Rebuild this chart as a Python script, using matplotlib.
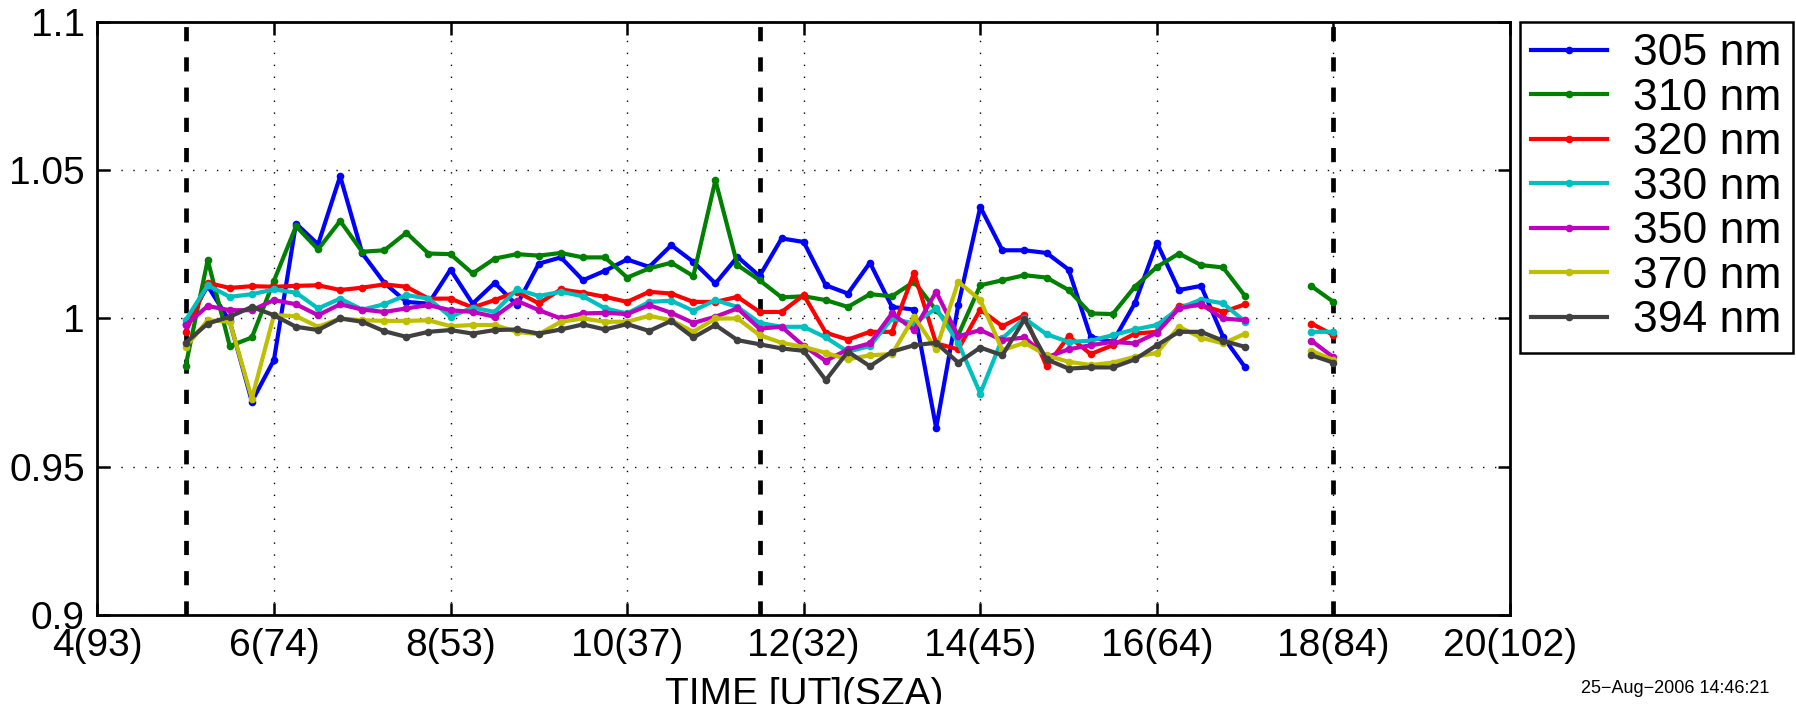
import numpy as np
import matplotlib
matplotlib.use('Agg')
import matplotlib.pyplot as plt

plt.rcParams['font.family'] = ['Liberation Sans', 'DejaVu Sans']

# hours UT of each ratio sample
hours = [5.0, 5.25, 5.5, 5.75, 6.0, 6.25, 6.5, 6.75, 7.0, 7.25, 7.5, 7.75,
         8.0, 8.25, 8.5, 8.75, 9.0, 9.25, 9.5, 9.75, 10.0, 10.25, 10.5, 10.75,
         11.0, 11.25, 11.5, 11.75, 12.0, 12.25, 12.5, 12.75, 13.0, 13.25, 13.5, 13.75,
         14.0, 14.25, 14.5, 14.75, 15.0, 15.25, 15.5, 15.75, 16.0, 16.25, 16.5, 16.75,
         17.0, 17.75, 18.0]

r305 = [0.998, 1.011, 0.999, 0.972, 0.986, 1.032, 1.025, 1.048, 1.022, 1.012, 1.0056, 1.005,
        1.0165, 1.005, 1.012, 1.0045, 1.0185, 1.0206, 1.0129, 1.0161, 1.0199, 1.0174, 1.0247, 1.0191,
        1.0118, 1.0208, 1.0143, 1.027, 1.0258, 1.0112, 1.0084, 1.0188, 1.0039, 1.003, 0.9631, 1.0045,
        1.0376, 1.023, 1.023, 1.0221, 1.0165, 0.9938, 0.9921, 1.0051, 1.0255, 1.0096, 1.011, 0.9938,
        0.9835, np.nan, np.nan]
r310 = [0.984, 1.0197, 0.9907, 0.9936, 1.0127, 1.0311, 1.0233, 1.0329, 1.0225, 1.023, 1.0289, 1.0219,
        1.0217, 1.0152, 1.0202, 1.0217, 1.0212, 1.0221, 1.0206, 1.0206, 1.0138, 1.0169, 1.0188, 1.0143,
        1.0466, 1.018, 1.0129, 1.0071, 1.0075, 1.0062, 1.0039, 1.0082, 1.0075, 1.0124, 1.0028, 0.9944,
        1.0112, 1.0129, 1.0146, 1.0138, 1.0096, 1.0017, 1.0015, 1.0107, 1.0174, 1.0219, 1.018, 1.0172,
        1.0075, 1.0109, 1.0056]
r320 = [0.9955, 1.012, 1.0103, 1.0109, 1.0107, 1.011, 1.0112, 1.0096, 1.0104, 1.0115, 1.0107, 1.0067,
        1.0067, 1.0037, 1.0062, 1.009, 1.0051, 1.0098, 1.0087, 1.0073, 1.0056, 1.009, 1.0084, 1.0056,
        1.0056, 1.0073, 1.0022, 1.0022, 1.0079, 0.9952, 0.9929, 0.9955, 0.9955, 1.0154, 0.9916, 0.9896,
        1.003, 0.9974, 1.0011, 0.9839, 0.994, 0.988, 0.991, 0.9949, 0.9955, 1.0042, 1.0045, 1.0022,
        1.0048, 0.9983, 0.9944]
r330 = [0.9994, 1.0112, 1.0073, 1.0082, 1.0098, 1.0087, 1.0034, 1.0067, 1.003, 1.0048, 1.0079, 1.0067,
        1.0006, 1.0037, 1.0022, 1.0098, 1.0076, 1.009, 1.0075, 1.0034, 1.0017, 1.0056, 1.006, 1.0026,
        1.0062, 1.0039, 0.9985, 0.9972, 0.9972, 0.9936, 0.9888, 0.9907, 1.0, 0.9983, 1.0034, 0.9918,
        0.9747, 0.9933, 1.0, 0.9947, 0.9921, 0.9925, 0.9944, 0.9963, 0.9978, 1.0034, 1.0064, 1.0051,
        0.9989, 0.9955, 0.9955]
r350 = [0.9978, 1.0042, 1.0028, 1.0028, 1.0062, 1.0048, 1.0011, 1.0048, 1.003, 1.0022, 1.0034, 1.0045,
        1.0028, 1.0022, 1.0006, 1.006, 1.0028, 1.0, 1.0017, 1.0019, 1.0015, 1.0045, 1.0019, 0.9985,
        1.0006, 1.0034, 0.9966, 0.9972, 0.9907, 0.9857, 0.9896, 0.9916, 1.0017, 0.9961, 1.009, 0.994,
        0.9961, 0.9927, 0.9936, 0.9869, 0.9896, 0.991, 0.9921, 0.9916, 0.9952, 1.0034, 1.0048, 1.0,
        0.9994, 0.9925, 0.9869]
r370 = [0.9904, 0.9994, 0.9989, 0.973, 1.0011, 1.0008, 0.9972, 1.0, 0.9994, 0.9992, 0.9992, 0.9994,
        0.9974, 0.9978, 0.9978, 0.9955, 0.9947, 0.9989, 1.0, 0.9989, 0.9989, 1.0009, 0.9994, 0.9955,
        1.0, 1.0, 0.9944, 0.9918, 0.9904, 0.9884, 0.9862, 0.9876, 0.988, 1.0006, 0.9896, 1.0124,
        1.0062, 0.9893, 0.9918, 0.9876, 0.9854, 0.9843, 0.9851, 0.9871, 0.9884, 0.9972, 0.9935, 0.9916,
        0.9949, 0.9891, 0.986]
r394 = [0.9918, 0.9983, 1.0006, 1.0039, 1.0011, 0.9972, 0.9961, 1.0, 0.9989, 0.9957, 0.9938, 0.9955,
        0.9961, 0.9949, 0.9961, 0.9963, 0.9949, 0.9963, 0.998, 0.9963, 0.9981, 0.9958, 0.9992, 0.9936,
        0.9978, 0.9927, 0.9913, 0.9899, 0.9891, 0.9792, 0.9888, 0.9839, 0.9888, 0.991, 0.9918, 0.9851,
        0.9902, 0.9876, 0.9997, 0.9862, 0.9831, 0.9835, 0.9835, 0.9862, 0.991, 0.9955, 0.9955, 0.9925,
        0.9904, 0.9876, 0.9851]

labels = ['305 nm', '310 nm', '320 nm', '330 nm', '350 nm', '370 nm', '394 nm']
colors = [(0, 0, 1), (0, 0.5, 0), (1, 0, 0), (0, 0.75, 0.75),
          (0.75, 0, 0.75), (0.75, 0.75, 0), (0.25, 0.25, 0.25)]
series = [r305, r310, r320, r330, r350, r370, r394]

marks = [5.0, 11.5, 18.0]   # dashed markers
xticks = [4, 6, 8, 10, 12, 14, 16, 18, 20]
xticklabels = ['4(93)', '6(74)', '8(53)', '10(37)', '12(32)', '14(45)',
               '16(64)', '18(84)', '20(102)']
yticks = [0.9, 0.95, 1.0, 1.05, 1.1]
yticklabels = ['0.9', '0.95', '1', '1.05', '1.1']

# break the lines where there is a gap in the sampling
t = np.array(hours)
gap = np.where(np.diff(t) > 0.3)[0] + 1
t = np.insert(t, gap, np.nan)

fig = plt.figure(figsize=(17.96, 7.04), dpi=100)
ax = fig.add_axes([0.0542, 0.1264, 0.7866, 0.8424])

for m in marks:
    ax.axvline(m, color='k', lw=3.4, ls=(0, (3, 3.4)), zorder=1.5)

for y, c, lab in zip(series, colors, labels):
    y = np.insert(np.array(y, dtype=float), gap, np.nan)
    ax.plot(t, y, '-', color=c, lw=3.0, marker='o', ms=5.5, mew=0, label=lab, zorder=2)

ax.set_xlim(4, 20)
ax.set_ylim(0.9, 1.1)
ax.set_xticks(xticks)
ax.set_xticklabels(xticklabels)
ax.set_yticks(yticks)
ax.set_yticklabels(yticklabels)
ax.grid(True, color='k', lw=1.0, ls=(0, (1, 7.6)))
ax.tick_params(direction='in', length=9, width=1.8, top=True, right=True,
               labelsize=28, pad=9)
for s in ax.spines.values():
    s.set_linewidth(2.0)

leg = ax.legend(loc='upper left', bbox_to_anchor=(1520 / 1796, 1 - 22 / 704),
                bbox_transform=fig.transFigure, fontsize=32, fancybox=False,
                framealpha=1, edgecolor='k', borderaxespad=0, borderpad=0.25,
                labelspacing=0.08, handlelength=1.71, handletextpad=0.59)
leg.get_frame().set_linewidth(1.8)

fig.text(0.5 * (0.0542 + 0.8408), 1 - 677 / 704, 'TIME [UT](SZA)',
         ha='center', va='top', fontsize=28)
fig.text(1769 / 1796, 1 - 693 / 704, '25\u2212Aug\u22122006 14:46:21',
         ha='right', va='baseline', fontsize=13)

fig.savefig('out.png', dpi=100)
